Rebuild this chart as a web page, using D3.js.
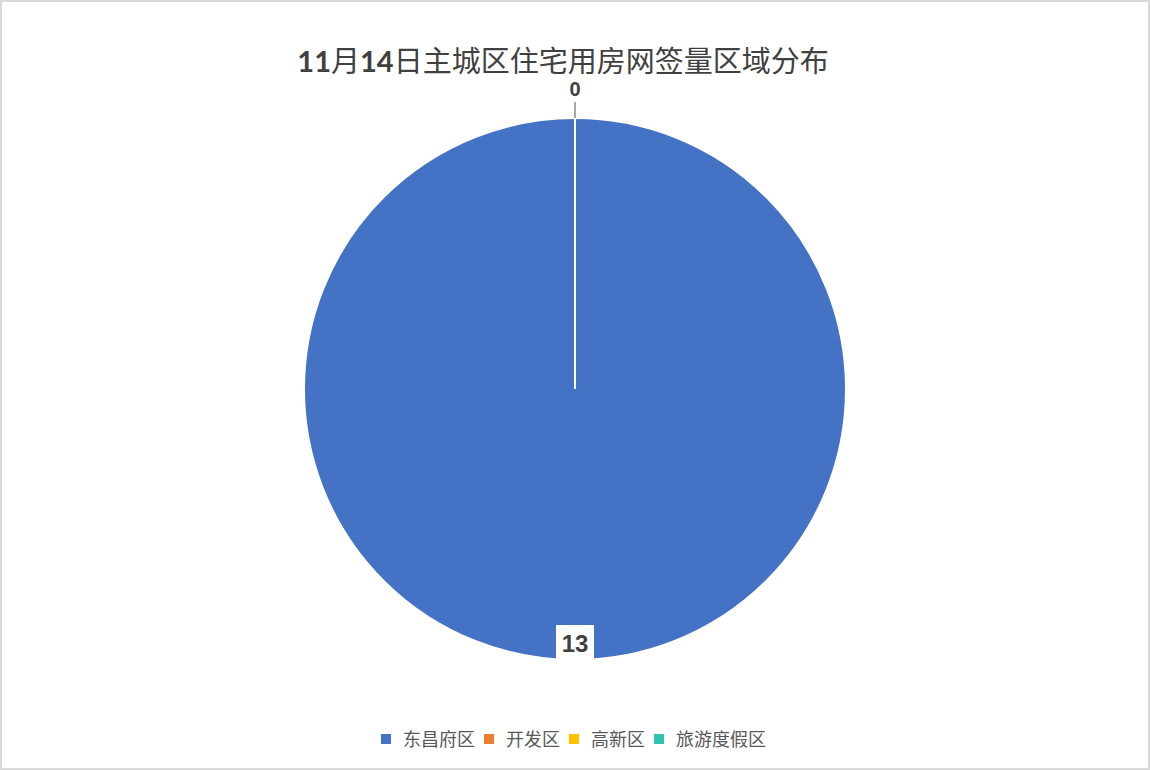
<!DOCTYPE html>
<html>
<head>
<meta charset="utf-8">
<script src="https://cdn.jsdelivr.net/npm/d3@7"></script>
<style>
  body { margin: 0; background: #fff; }
  text { font-family: "Liberation Sans", "Noto Sans CJK SC", sans-serif; }
</style>
</head>
<body>
<div id="chart"></div>
<script>
var svgWidth = 1150;
var svgHeight = 771;

// chart data
var districts = ["东昌府区", "开发区", "高新区", "旅游度假区"];
var counts = [13, 0, 0, 0];
var colors = ["#4472C4", "#ED7D31", "#FFC000", "#2EC4B0"];
var titleParts = [["11", true], ["月", false], ["14", true], ["日主城区住宅用房网签量区域分布", false]];

var cx = 575, cy = 389, radius = 271;

var svg = d3.select("#chart")
  .append("svg")
  .attr("width", svgWidth)
  .attr("height", svgHeight);

// outer frame
svg.append("rect")
  .attr("x", 1).attr("y", 1)
  .attr("width", svgWidth - 2).attr("height", svgHeight - 3)
  .attr("fill", "#fff")
  .attr("stroke", "#d9d9d9")
  .attr("stroke-width", 2);

// title
var title = svg.append("text")
  .attr("x", 563)
  .attr("y", 72)
  .attr("text-anchor", "middle")
  .attr("font-size", "29px")
  .attr("fill", "#404040");
titleParts.forEach(p => {
  title.append("tspan")
    .attr("font-weight", p[1] ? "bold" : "normal")
    .attr("font-family", p[1] ? "Lato, 'Open Sans', sans-serif" : "'Noto Sans CJK SC', sans-serif")
    .text(p[0]);
});

var data = districts.map((d, i) => ({ name: d, value: counts[i], color: colors[i] }));

var pie = d3.pie().sort(null).value(d => d.value);
var arc = d3.arc().innerRadius(0).outerRadius(radius);
var arcs = pie(data);

var chartGroup = svg.append("g")
  .attr("transform", `translate(${cx}, ${cy})`);

chartGroup.selectAll("path.slice")
  .data(arcs)
  .enter()
  .append("path")
  .attr("class", "slice")
  .attr("d", arc)
  .attr("fill", d => d.data.color)
  .attr("stroke", "#fff")
  .attr("stroke-width", 2);

// labels (zero slices share one spot, so only the first one there is drawn)
function midAngle(d) { return (d.startAngle + d.endAngle) / 2; }
var usedAngles = [];

arcs.forEach(d => {
  var a = midAngle(d);
  var sx = Math.sin(a), sy = -Math.cos(a);
  if (d.value > 0) {
    var lr = radius - 17;
    var lx = sx * lr, ly = sy * lr;
    chartGroup.append("rect")
      .attr("x", lx - 19).attr("y", ly - 18)
      .attr("width", 38).attr("height", 36)
      .attr("fill", "#fff");
    chartGroup.append("text")
      .attr("x", lx).attr("y", ly + 9)
      .attr("text-anchor", "middle")
      .attr("font-size", "24px")
      .attr("font-weight", "bold")
      .attr("font-family", "Lato, 'Open Sans', sans-serif")
      .attr("fill", "#404040")
      .text(d.value);
  } else {
    if (usedAngles.some(u => Math.abs(u - a) < 0.01)) return;
    usedAngles.push(a);
    chartGroup.append("line")
      .attr("x1", sx * radius).attr("y1", sy * radius)
      .attr("x2", sx * (radius + 16)).attr("y2", sy * (radius + 16))
      .attr("stroke", "#a6a6a6")
      .attr("stroke-width", 2);
    chartGroup.append("text")
      .attr("x", sx * (radius + 29)).attr("y", sy * (radius + 29) + 7)
      .attr("text-anchor", "middle")
      .attr("font-size", "20px")
      .attr("font-weight", "bold")
      .attr("font-family", "Lato, 'Open Sans', sans-serif")
      .attr("fill", "#404040")
      .text(d.value);
  }
});

// legend
var legendX = [381, 484, 569, 654];
var legend = svg.append("g");
data.forEach((d, i) => {
  legend.append("rect")
    .attr("x", legendX[i]).attr("y", 734)
    .attr("width", 10).attr("height", 10)
    .attr("fill", d.color);
  legend.append("text")
    .attr("x", legendX[i] + 22).attr("y", 746)
    .attr("font-size", "18px")
    .attr("font-family", "'Noto Sans CJK SC', sans-serif")
    .attr("fill", "#595959")
    .text(d.name);
});
</script>
</body>
</html>
